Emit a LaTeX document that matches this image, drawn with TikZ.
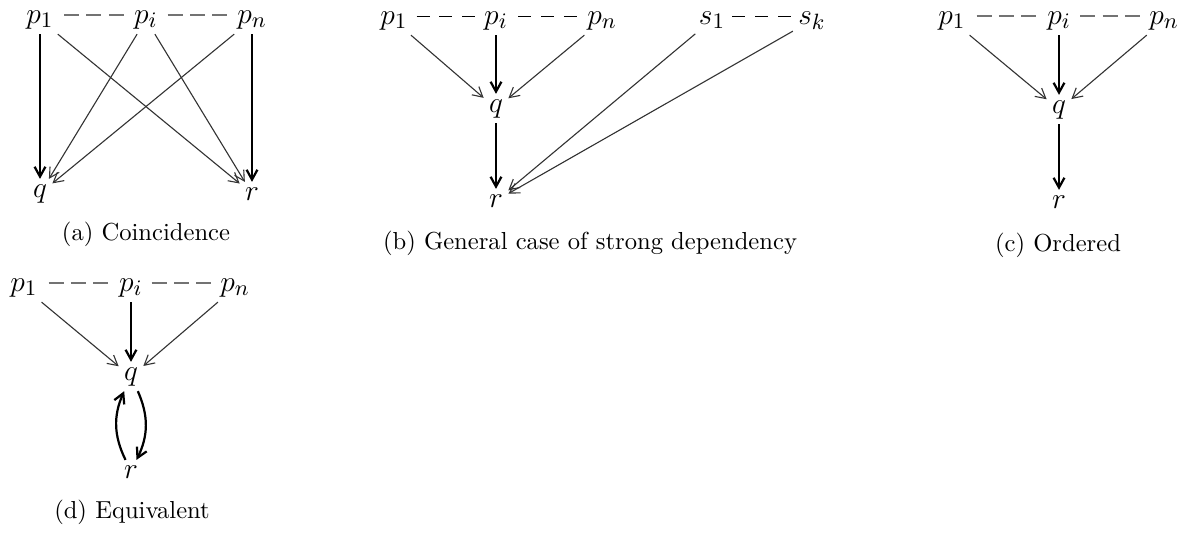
\documentclass[tikz,border=0pt]{standalone}
\usetikzlibrary{arrows.meta,calc}
\begin{document}
\begin{tikzpicture}[x=0.4065pt,y=-0.4065pt,
  lbl/.style={inner sep=2pt, anchor=base, font=\fontsize{13}{15}\selectfont},
  captxt/.style={inner sep=0pt, anchor=base, font=\fontsize{10}{12}\selectfont},
  thinarr/.style={draw=black!80, line width=0.45pt, -{Straight Barb[length=4pt,width=4.4pt]}},
  thickarr/.style={draw=black, line width=0.9pt, -{Straight Barb[length=4pt,width=4.4pt]}},
  dashg/.style={draw=black!55, line width=0.55pt, dash pattern=on 6.1pt off 3pt},
  dashk/.style={draw=black, line width=0.5pt, dash pattern=on 5.3pt off 4pt}]
\useasboundingbox (0,0) rectangle (1192,534);
% (a)
\node[lbl] (a1) at (40,23) {$p_1$};
\node[lbl] (ai) at (146,23) {$p_i$};
\node[lbl] (an) at (252,23) {$p_n$};
\node[lbl] (aq) at (40,197) {$q$};
\node[lbl] (ar) at (252,200) {$r$};
\node[captxt] (acap) at (146,240) {(a) Coincidence};
\draw[dashg] ($(a1.base east)!0.5!(ai.base west)+(-12.15pt,3.2pt)$) -- ++(24.3pt,0);
\draw[dashg] ($(ai.base east)!0.5!(an.base west)+(-12.15pt,3.2pt)$) -- ++(24.3pt,0);
\draw[thickarr] (a1) -- (aq);
\draw[thickarr] (an) -- (ar);
\draw[thinarr] (a1) -- (ar);
\draw[thinarr] (ai) -- (aq);
\draw[thinarr] (ai) -- (ar);
\draw[thinarr] (an) -- (aq);
% (b)
\node[lbl] (b1) at (394,24) {$p_1$};
\node[lbl] (bi) at (496,24) {$p_i$};
\node[lbl] (bn) at (602,24) {$p_n$};
\node[lbl] (bs1) at (712,24) {$s_1$};
\node[lbl] (bsk) at (812,24) {$s_k$};
\node[lbl] (bq) at (496,112) {$q$};
\node[lbl] (br) at (496,207) {$r$};
\node[captxt] (bcap) at (590,249) {(b) General case of strong dependency};
\draw[dashk] ($(b1.base east)!0.5!(bi.base west)+(-11.95pt,3.2pt)$) -- ++(23.9pt,0);
\draw[dashk] ($(bi.base east)!0.5!(bn.base west)+(-11.95pt,3.2pt)$) -- ++(23.9pt,0);
\draw[dashk] ($(bs1.base east)!0.5!(bsk.base west)+(-11.95pt,3.2pt)$) -- ++(23.9pt,0);
\draw[thickarr] (bi) -- (bq);
\draw[thickarr] (bq) -- (br);
\draw[thinarr] (b1) -- (bq);
\draw[thinarr] (bn) -- (bq);
\draw[thinarr] (bs1) -- (br);
\draw[thinarr] (bsk) -- (br);
% (c)
\node[lbl] (c1) at (952,24) {$p_1$};
\node[lbl] (ci) at (1059,24) {$p_i$};
\node[lbl] (cn) at (1164,24) {$p_n$};
\node[lbl] (cq) at (1059,113) {$q$};
\node[lbl] (cr) at (1059,208) {$r$};
\node[captxt] (ccap) at (1058,251) {(c) Ordered};
\draw[dashg] ($(c1.base east)!0.5!(ci.base west)+(-12.15pt,3.2pt)$) -- ++(24.3pt,0);
\draw[dashg] ($(ci.base east)!0.5!(cn.base west)+(-12.15pt,3.2pt)$) -- ++(24.3pt,0);
\draw[thickarr] (ci) -- (cq);
\draw[thickarr] (cq) -- (cr);
\draw[thinarr] (c1) -- (cq);
\draw[thinarr] (cn) -- (cq);
% (d)
\node[lbl] (d1) at (24,291) {$p_1$};
\node[lbl] (di) at (131,291) {$p_i$};
\node[lbl] (dn) at (235,291) {$p_n$};
\node[lbl] (dq) at (131,380) {$q$};
\node[lbl] (dr) at (131,478) {$r$};
\node[captxt] (dcap) at (132,518) {(d) Equivalent};
\draw[dashg] ($(d1.base east)!0.5!(di.base west)+(-12.15pt,3.2pt)$) -- ++(24.3pt,0);
\draw[dashg] ($(di.base east)!0.5!(dn.base west)+(-12.15pt,3.2pt)$) -- ++(24.3pt,0);
\draw[thickarr] (di) -- (dq);
\draw[thinarr] (d1) -- (dq);
\draw[thinarr] (dn) -- (dq);
\draw[thickarr] (dr) to[bend left=25] (dq);
\draw[thickarr] (dq) to[bend left=25] (dr);
\end{tikzpicture}
\end{document}
